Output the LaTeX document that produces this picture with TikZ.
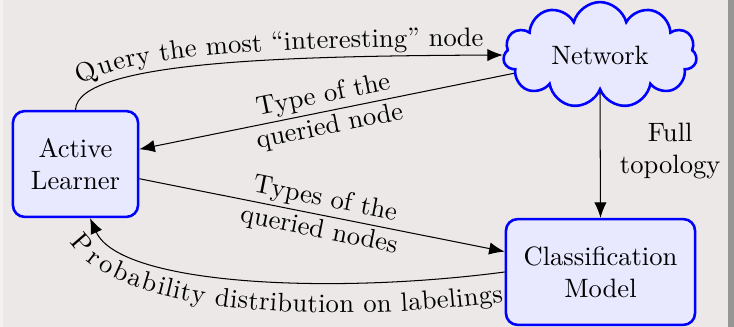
\documentclass[tikz,border=0pt]{standalone}
\usetikzlibrary{shapes.symbols,arrows.meta,decorations.text}
\definecolor{canvas}{RGB}{236,232,231}
\definecolor{canvasedge}{RGB}{244,242,241}
\definecolor{boxfill}{RGB}{232,232,255}
\definecolor{frameside}{RGB}{150,150,150}
\begin{document}
\fontsize{10.3}{12.4}\selectfont
\begin{tikzpicture}[x=0.3876pt,y=-0.3876pt,
  every node/.style={font=\fontsize{10.3}{12.4}\selectfont},
  block/.style={draw=blue, fill=boxfill, line width=1pt, rounded corners=4.5pt,
    align=center, minimum height=41pt},
  conn/.style={-{Latex[length=6pt,width=4.8pt]}},
  curvetext/.style={postaction={decorate, decoration={text along path,
    text align=center, raise=#1}}}]
  % canvas
  \useasboundingbox (0,0) rectangle (734,327);
  \fill[canvas] (0,0) rectangle (734,327);
  \fill[canvasedge] (0,0) rectangle (3,327);
  \fill[frameside] (728,0) rectangle (734,327);

  % nodes
  \node[block, minimum width=48.5pt] (al) at (75.5,164) {Active\\Learner};
  \node[block, minimum width=73.3pt] (cm) at (600.5,272) {Classification\\Model};
  \node[cloud, cloud puffs=11, cloud puff arc=150, aspect=1.9, draw=blue,
    fill=boxfill, line width=1pt, minimum width=75pt, minimum height=41pt,
    inner sep=0pt] (net) at (600,55) {Network};

  % connectors
  \draw[conn, curvetext=3.5pt, decoration={text={Query the most {\textquotedblleft}interesting{\textquotedblright} node}}]
    (al.north) .. controls (77,60) and (300,56) .. (net.west);
  \draw[conn] (net.192) -- node[sloped, align=center] {Type of the\\queried node} (al.13);
  \draw[conn] (al.-13) -- node[sloped, align=center] {Types of the\\queried nodes} (cm.168);
  \draw[conn] (net.south) -- node[right, align=center, xshift=4pt, yshift=1.5pt] {Full\\topology} (cm.north);
  \draw[{Latex[length=6pt,width=4.8pt]}-, curvetext=-11.5pt,
    decoration={text={Probability distribution on labelings}}]
    (al.-75) .. controls (120,285) and (330,295) .. (cm.west);
\end{tikzpicture}
\end{document}
